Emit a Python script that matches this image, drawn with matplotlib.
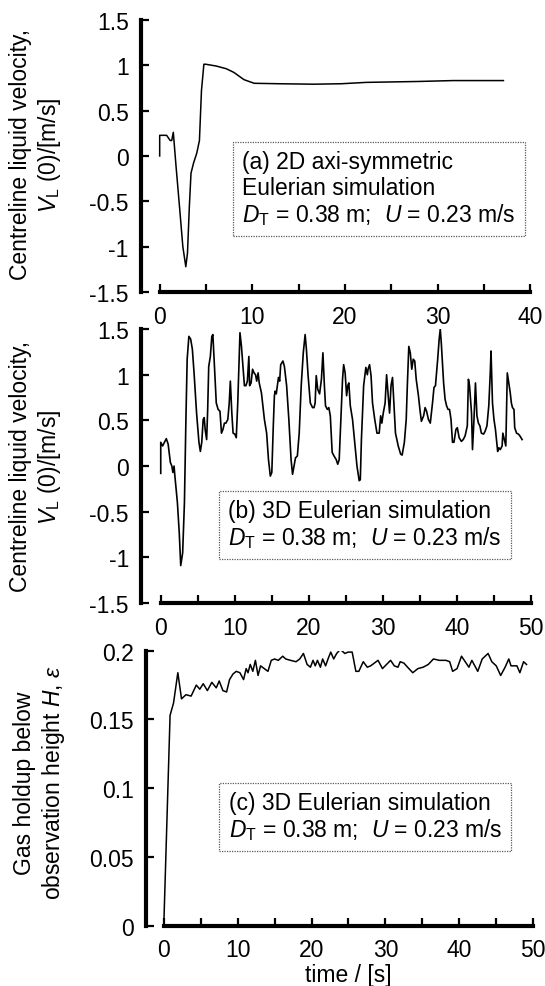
import matplotlib
matplotlib.use('Agg')
import matplotlib.pyplot as plt
from matplotlib.ticker import MultipleLocator, FormatStrFormatter

plt.rcParams['font.family'] = ['Liberation Sans', 'DejaVu Sans']
plt.rcParams['mathtext.fontset'] = 'custom'
plt.rcParams['mathtext.rm'] = 'Liberation Sans'
plt.rcParams['mathtext.it'] = 'Liberation Sans:italic'
plt.rcParams['axes.unicode_minus'] = False

# (a) 2D axi-symmetric, centreline velocity
t_a = [0, 0, 0.75, 1.13, 1.3, 1.47, 1.77, 2.14, 2.5, 2.82, 3.0, 3.2, 3.38, 3.65,
       4.0, 4.29, 4.51, 4.77, 4.96, 6.1, 7.2, 8.0, 9.1, 10.2, 12.9, 16.6, 19.6,
       22.3, 27.9, 31.7, 37.1]
v_a = [0, 0.227, 0.227, 0.17, 0.17, 0.26, -0.12, -0.56, -1.0, -1.22, -1.07, -0.56,
       -0.19, -0.08, 0.03, 0.17, 0.72, 1.01, 1.01, 0.99, 0.96, 0.92, 0.84, 0.80,
       0.795, 0.79, 0.795, 0.81, 0.82, 0.83, 0.83]

# (b) 3D Eulerian, centreline velocity
t_b = [0, 0, 0.25, 0.5, 0.75, 1.0, 1.3, 1.5, 1.64, 1.8, 1.9, 2.25, 2.5, 2.7, 2.96,
       3.2, 3.4, 3.57, 3.8, 4.04, 4.27, 4.5, 4.84, 5.16, 5.35, 5.54, 5.73, 5.87,
       6.0, 6.2, 6.34, 6.48, 6.7, 6.9, 7.04, 7.23, 7.5, 7.75, 8.0, 8.2, 8.4, 8.6,
       8.8, 9.06, 9.25, 9.4, 9.6, 9.77, 10.0, 10.2, 10.4, 10.7, 10.9, 11.1, 11.3,
       11.5, 11.7, 11.9, 12.0, 12.2, 12.4, 12.6, 12.8, 12.96, 13.15, 13.3, 13.6,
       14.0, 14.3, 14.55, 14.8, 15.0, 15.2, 15.35, 15.45, 15.6, 15.8, 15.9, 16.06,
       16.2, 16.5, 16.7, 17.0, 17.3, 17.6, 17.8, 18.0, 18.2, 18.45, 18.7, 18.97,
       19.25, 19.5, 19.67, 19.9, 20.2, 20.5, 20.7, 20.85, 21.0, 21.2, 21.45, 21.7,
       21.9, 22.1, 22.25, 22.5, 22.7, 22.9, 23.15, 23.4, 23.7, 23.9, 24.1, 24.3,
       24.55, 24.7, 24.9, 25.1, 25.26, 25.4, 25.6, 25.9, 26.2, 26.5, 26.8, 26.95,
       27.1, 27.4, 27.6, 27.7, 27.9, 28.0, 28.2, 28.4, 28.6, 28.9, 29.2, 29.5,
       29.7, 29.86, 30.05, 30.3, 30.5, 30.65, 30.9, 31.1, 31.3, 31.5, 31.7, 32.07,
       32.4, 32.6, 32.9, 33.15, 33.3, 33.5, 33.7, 33.9, 34.1, 34.3, 34.5, 34.8,
       35.0, 35.2, 35.5, 35.7, 35.9, 36.15, 36.4, 36.7, 36.9, 37.1, 37.4, 37.6,
       37.75, 37.9, 38.2, 38.4, 38.6, 38.8, 39.0, 39.2, 39.4, 39.6, 39.86, 40.05,
       40.3, 40.6, 40.85, 41.1, 41.4, 41.55, 41.7, 41.97, 42.1, 42.3, 42.5, 42.7,
       42.9, 43.1, 43.3, 43.6, 43.8, 44.05, 44.3, 44.5, 44.6, 44.8, 45.0, 45.2,
       45.5, 45.66, 45.85, 46.1, 46.2, 46.4, 46.6, 46.8, 47.0, 47.2, 47.35, 47.5,
       47.7, 47.8, 48.05, 48.3, 48.5, 48.8]
v_b = [-0.08, 0.26, 0.22, 0.26, 0.30, 0.24, 0.04, 0.0, -0.07, 0.0, -0.1, -0.40,
       -0.73, -1.09, -0.95, -0.40, 0.51, 1.17, 1.42, 1.39, 1.28, 1.02, 0.58, 0.26,
       0.16, 0.26, 0.51, 0.53, 0.40, 0.29, 0.62, 1.09, 1.2, 1.42, 1.44, 1.13, 0.69,
       0.62, 0.60, 0.36, 0.40, 0.47, 0.47, 0.51, 0.69, 0.93, 0.58, 0.36, 0.35, 0.31,
       0.69, 1.46, 1.31, 1.09, 0.88, 0.88, 0.93, 1.2, 0.88, 0.91, 1.06, 1.02, 1.0,
       0.93, 1.02, 0.91, 0.80, 0.51, 0.36, 0.07, -0.11, -0.07, 0.44, 0.77, 0.82,
       0.79, 0.91, 0.97, 0.93, 1.11, 1.15, 1.09, 0.88, 0.51, 0.07, -0.09, 0.0, 0.09,
       0.11, 0.36, 0.88, 1.24, 1.44, 1.28, 0.99, 0.69, 0.64, 0.64, 0.69, 0.99, 0.84,
       0.79, 0.95, 1.24, 0.88, 0.66, 0.62, 0.64, 0.55, 0.15, 0.11, 0.07, 0.02, 0.07,
       0.47, 0.95, 1.11, 1.02, 0.77, 0.88, 0.91, 0.66, 0.51, 0.26, 0.0, -0.16, -0.15,
       0.29, 0.88, 1.02, 1.08, 1.0, 1.06, 1.11, 0.99, 0.69, 0.51, 0.36, 0.36, 0.55,
       0.47, 0.58, 0.69, 1.0, 0.84, 0.58, 0.88, 0.97, 0.66, 0.36, 0.22, 0.13, 0.12,
       0.26, 0.51, 0.88, 1.31, 1.24, 1.06, 1.17, 1.15, 0.95, 0.77, 0.62, 0.49, 0.55,
       0.64, 0.60, 0.51, 0.47, 0.69, 0.86, 0.88, 1.17, 1.39, 1.50, 1.33, 0.91, 0.73,
       0.66, 0.62, 0.62, 0.51, 0.26, 0.26, 0.40, 0.42, 0.31, 0.27, 0.29, 0.33, 0.44,
       0.95, 0.88, 0.58, 0.18, 0.51, 0.91, 0.55, 0.47, 0.44, 0.36, 0.35, 0.38, 0.44,
       0.66, 1.02, 1.26, 0.69, 0.51, 0.40, 0.16, 0.20, 0.18, 0.22, 0.36, 0.29, 0.22,
       1.02, 0.91, 0.80, 0.69, 0.64, 0.62, 0.42, 0.36, 0.35, 0.33, 0.29]

# (c) gas holdup below observation height
t_c = [0, 0.85, 1.32, 1.9, 2.4, 3.0, 3.7, 4.4, 4.87, 5.34, 5.9, 6.5, 7.1, 7.5, 8.0,
       8.5, 8.9, 9.36, 9.8, 10.3, 10.8, 11.15, 11.4, 11.7, 12.05, 12.4, 12.76, 13.1,
       13.6, 14.1, 14.55, 15.0, 15.5, 16.1, 16.5, 17.15, 17.9, 18.4, 18.9, 19.4,
       19.85, 20.2, 20.5, 20.8, 21.2, 21.5, 21.9, 22.3, 22.6, 23.0, 23.4, 23.9, 24.5,
       24.95, 25.5, 26.0, 26.4, 27.0, 27.55, 28.0, 29.0, 29.6, 30.15, 30.7, 31.2,
       31.7, 32.0, 32.5, 33.0, 33.7, 34.4, 35.1, 35.8, 36.5, 37.3, 38.2, 38.7, 39.1,
       39.7, 40.3, 40.8, 41.3, 41.7, 42.1, 42.5, 43.1, 43.9, 44.4, 45.0, 45.6, 46.2,
       46.7, 47.0, 47.4, 47.8, 48.2, 48.7, 49.1]
eps_c = [0.0, 0.153, 0.162, 0.184, 0.165, 0.168, 0.167, 0.175, 0.172, 0.176, 0.171,
         0.177, 0.173, 0.178, 0.171, 0.170, 0.179, 0.183, 0.185, 0.184, 0.179, 0.187,
         0.184, 0.190, 0.185, 0.193, 0.182, 0.189, 0.187, 0.185, 0.193, 0.194, 0.193,
         0.196, 0.194, 0.193, 0.192, 0.194, 0.198, 0.190, 0.188, 0.193, 0.189, 0.193,
         0.188, 0.194, 0.189, 0.195, 0.199, 0.194, 0.198, 0.201, 0.198, 0.199, 0.199,
         0.185, 0.185, 0.192, 0.188, 0.189, 0.193, 0.187, 0.190, 0.193, 0.189, 0.188,
         0.192, 0.191, 0.188, 0.184, 0.187, 0.188, 0.190, 0.194, 0.193, 0.193, 0.192,
         0.185, 0.187, 0.196, 0.192, 0.188, 0.193, 0.189, 0.185, 0.194, 0.198, 0.192,
         0.189, 0.182, 0.188, 0.194, 0.189, 0.189, 0.189, 0.184, 0.192, 0.190]

box_a = "(a) 2D axi-symmetric\nEulerian simulation\n$D_\\mathrm{T}$ = 0.38 m;  $U$ = 0.23 m/s"
box_b = "(b) 3D Eulerian simulation\n$D_\\mathrm{T}$ = 0.38 m;  $U$ = 0.23 m/s"
box_c = "(c) 3D Eulerian simulation\n$D_\\mathrm{T}$ = 0.38 m;  $U$ = 0.23 m/s"
vel_label = "Centreline liquid velocity,\n$V_\\mathrm{L}$ (0)/[m/s]"
gas_label = "Gas holdup below\nobservation height $H$, $\\varepsilon$"

FS = 16.5


def style(ax, xleft, xmax, ylim, ystep):
    for s in ['top', 'right']:
        ax.spines[s].set_visible(False)
    for s in ['left', 'bottom']:
        ax.spines[s].set_linewidth(3)
    ax.spines['bottom'].set_bounds(0, xmax)
    ax.set_xlim(xleft, xmax)
    ax.set_ylim(*ylim)
    ax.xaxis.set_major_locator(MultipleLocator(10))
    ax.xaxis.set_minor_locator(MultipleLocator(5))
    ax.yaxis.set_major_locator(MultipleLocator(ystep))
    ax.yaxis.set_major_formatter(FormatStrFormatter('%g'))
    ax.tick_params(which='both', direction='in', length=6, width=1.6,
                   labelsize=FS, pad=9)


def note(ax, x, y, s):
    ax.text(x, y, s, transform=ax.transAxes, ha='left', va='top', fontsize=FS,
            linespacing=1.12,
            bbox=dict(boxstyle='square,pad=0.4', fc='white', ec='0.35',
                      ls=(0, (1, 1)), lw=0.9))


fig = plt.figure(figsize=(5.45, 9.87), dpi=100)

ax_a = fig.add_axes([0.259, 0.703, 0.714, 0.276])
ax_a.plot(t_a, v_a, color='black', lw=1.1)
style(ax_a, -2.0, 40, (-1.5, 1.5), 0.5)
note(ax_a, 0.26, 0.52, box_a)

ax_b = fig.add_axes([0.2596, 0.388, 0.7147, 0.2776])
ax_b.plot(t_b, v_b, color='black', lw=1.2)
style(ax_b, -2.6, 50, (-1.5, 1.5), 0.5)
note(ax_b, 0.222, 0.38, box_b)

ax_c = fig.add_axes([0.268, 0.0611, 0.7103, 0.2786])
ax_c.plot(t_c, eps_c, color='black', lw=1.1)
style(ax_c, -2.4, 50, (0, 0.2), 0.05)
note(ax_c, 0.213, 0.49, box_c)

fig.text(36/545, 1-155/987, vel_label, rotation=90, ha='center', va='center',
         fontsize=FS, linespacing=1.2)
fig.text(36/545, 1-467/987, vel_label, rotation=90, ha='center', va='center',
         fontsize=FS, linespacing=1.2)
fig.text(40/545, 1-783/987, gas_label, rotation=90, ha='center', va='center',
         fontsize=FS, linespacing=1.2)
fig.text(348/545, 1-976/987, "time / [s]", ha='center', va='center', fontsize=FS)

fig.savefig('out.png', dpi=100)
